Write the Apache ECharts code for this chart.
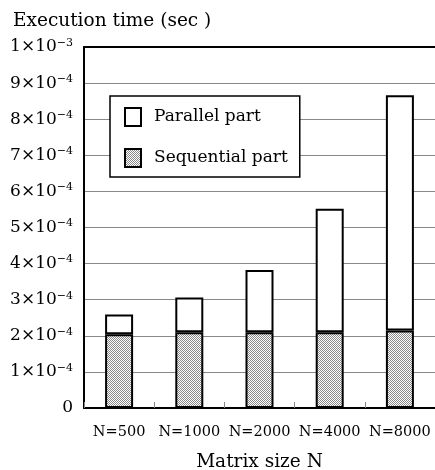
<!DOCTYPE html>
<html>
<head>
<meta charset="utf-8">
<script src="https://cdn.jsdelivr.net/npm/echarts@6/dist/echarts.min.js"></script>
<style>
html, body { margin: 0; padding: 0; background: #fff; }
#main { width: 435px; height: 470px; }
</style>
</head>
<body>
<div id="main"></div>
<script>
// matrix sizes
var categories = ['N=500', 'N=1000', 'N=2000', 'N=4000', 'N=8000'];
// sequential part (sec)
var sequentialData = [2.04e-4, 2.10e-4, 2.10e-4, 2.10e-4, 2.15e-4];
// parallel part (sec), stacked on top
var parallelData = [0.55e-4, 0.96e-4, 1.72e-4, 3.42e-4, 6.51e-4];
// y tick labels, mantissa^exponent
var yTickLabels = ['0', '1×10^−4', '2×10^−4', '3×10^−4', '4×10^−4', '5×10^−4',
    '6×10^−4', '7×10^−4', '8×10^−4', '9×10^−4', '1×10^−3'];

var FONT = 'DejaVu Serif';

//gray dotted fill for the sequential part
function makePattern() {
    var c = document.createElement('canvas');
    c.width = 2;
    c.height = 2;
    var ctx = c.getContext('2d');
    ctx.fillStyle = '#ffffff';
    ctx.fillRect(0, 0, 2, 2);
    ctx.fillStyle = '#8a8a8a';
    ctx.fillRect(0, 0, 1, 1);
    ctx.fillRect(1, 1, 1, 1);
    return c;
}

var chart = echarts.init(document.getElementById('main'));
var option = {
    animation: false,
    textStyle: { fontFamily: FONT, color: '#000' },
    title: {
        text: 'Execution time (sec )',
        left: 8,
        top: 7,
        textStyle: { fontFamily: FONT, fontSize: 18.5, fontWeight: 'normal', color: '#000' }
    },
    legend: {
        data: ['Parallel part', 'Sequential part'],
        orient: 'vertical',
        left: 110,
        top: 96,
        padding: [11, 12, 9, 14],
        itemGap: 21,
        itemWidth: 16,
        itemHeight: 18,
        icon: 'rect',
        backgroundColor: '#fff',
        borderColor: '#000',
        borderWidth: 1.5,
        borderRadius: 0,
        z: 10,
        textStyle: { fontFamily: FONT, fontSize: 17, color: '#000', padding: [0, 0, 0, 8] }
    },
    grid: { left: 84, right: 0, top: 47, bottom: 62, outerBoundsMode: 'none' },
    xAxis: [{
        type: 'category',
        data: categories,
        name: 'Matrix size N',
        nameLocation: 'middle',
        nameGap: 45,
        nameTextStyle: { fontFamily: FONT, fontSize: 18.5, color: '#000' },
        axisLine: { lineStyle: { color: '#000', width: 2 } },
        axisTick: { show: true, inside: true, length: 6, lineStyle: { color: '#888', width: 1 } },
        axisLabel: { interval: 0, fontFamily: FONT, fontSize: 14.5, color: '#000', margin: 17 }
    }, {
        type: 'category',
        data: categories,
        position: 'top',
        axisLine: { lineStyle: { color: '#000', width: 2 } },
        axisTick: { show: false },
        axisLabel: { show: false }
    }],
    yAxis: {
        type: 'value',
        min: 0,
        max: 1e-3,
        interval: 1e-4,
        axisLine: { show: true, lineStyle: { color: '#000', width: 2 } },
        axisTick: { show: false },
        splitLine: { lineStyle: { color: '#888', width: 1 } },
        axisLabel: {
            margin: 11,
            formatter: function (v) {
                var s = yTickLabels[Math.round(v / 1e-4)];
                var p = s.split('^');
                if (p.length === 1) return '{m|' + s + '}';
                return '{m|' + p[0] + '}{e|' + p[1] + '}';
            },
            rich: {
                m: { fontFamily: FONT, fontSize: 17, color: '#000' },
                e: { fontFamily: FONT, fontSize: 11, color: '#000', verticalAlign: 'top', padding: [0, 0, 8, 0] }
            }
        }
    },
    series: [{
        name: 'Sequential part',
        type: 'bar',
        stack: 'total',
        barWidth: 28,
        data: sequentialData,
        itemStyle: {
            color: { image: makePattern(), repeat: 'repeat' },
            borderColor: '#000',
            borderWidth: 2
        }
    }, {
        name: 'Parallel part',
        type: 'bar',
        stack: 'total',
        barWidth: 28,
        data: parallelData,
        itemStyle: {
            color: '#fff',
            borderColor: '#000',
            borderWidth: 2
        }
    }]
};
chart.setOption(option);
</script>
</body>
</html>
